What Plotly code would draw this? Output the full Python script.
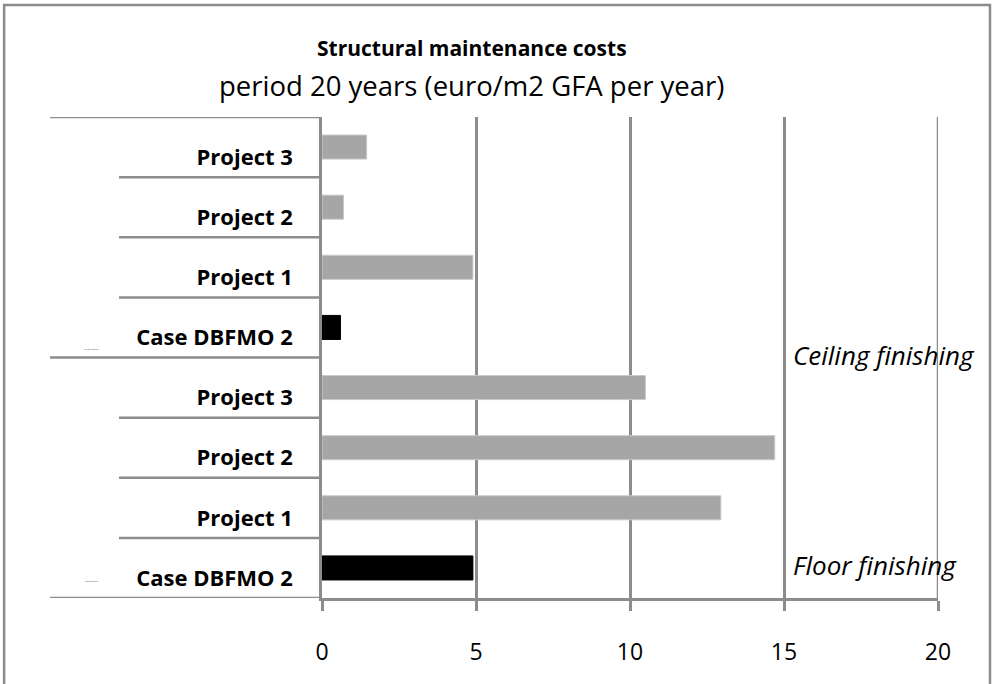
import plotly.graph_objects as go

# ---- data (bottom to top) ----
groups = ["Floor finishing"] * 4 + ["Ceiling finishing"] * 4
labels = ["Case DBFMO 2", "Project 1", "Project 2", "Project 3",
          "Case DBFMO 2", "Project 1", "Project 2", "Project 3"]
values = [4.9, 12.95, 14.7, 10.5, 0.6, 4.9, 0.7, 1.45]
x_ticks = [0, 5, 10, 15, 20]

title_text = "Structural maintenance costs"
subtitle_text = "period 20 years (euro/m2 GFA per year)"

GRID = "#8c8c8c"
FONT = "Open Sans"

positions = list(range(len(labels)))
colors = ["#000000" if lab.startswith("Case") else "#a6a6a6" for lab in labels]
edge = ["#000000" if lab.startswith("Case") else "#c9c9c9" for lab in labels]

fig = go.Figure()
fig.add_trace(go.Bar(
    x=values, y=positions, orientation="h", width=0.4,
    marker=dict(color=colors, line=dict(color=edge, width=1)),
    hoverinfo="x",
))

# separators between categories (Excel style multi-level axis)
shapes = []
n = len(labels)
for k in range(n + 1):
    yb = k - 0.5
    outer = (k == 0 or k == n or groups[k - 1] != groups[k])
    x0 = -0.4416 if outer else -0.3295
    shapes.append(dict(type="line", xref="paper", yref="y", x0=x0, x1=0,
                       y0=yb, y1=yb, line=dict(color=GRID, width=2.5)))
# last gridline at the right edge of the value axis
shapes.append(dict(type="line", xref="x", yref="paper", x0=x_ticks[-1], x1=x_ticks[-1],
                   y0=0, y1=1, line=dict(color=GRID, width=2.5)))
# chart frame
shapes.append(dict(type="rect", xref="paper", yref="paper",
                   x0=-0.516, x1=1.0844, y0=-0.19, y1=1.2328,
                   line=dict(color=GRID, width=2.5), fillcolor="rgba(0,0,0,0)",
                   layer="below"))

annotations = [
    dict(text="<b>" + title_text + "</b>", xref="paper", yref="paper",
         x=0.2435, y=1.1435, showarrow=False, xanchor="center", yanchor="middle",
         font=dict(family=FONT, size=21, color="#000")),
    dict(text=subtitle_text, xref="paper", yref="paper",
         x=0.2435, y=1.0665, showarrow=False, xanchor="center", yanchor="middle",
         font=dict(family=FONT, size=27.5, color="#000")),
]
# group labels: italic on the right, tiny on the left
group_names = []
for g in groups:
    if g not in group_names:
        group_names.append(g)
right_y = {"Floor finishing": 0.0686, "Ceiling finishing": 0.505}
left_y = {"Floor finishing": 0.0353, "Ceiling finishing": 0.5156}
for g in group_names:
    annotations.append(dict(text="<i>" + g + "</i>", xref="paper", yref="paper",
                            x=0.7615, y=right_y[g], xanchor="left", yanchor="middle",
                            showarrow=False,
                            font=dict(family=FONT, size=26, color="#000")))
    annotations.append(dict(text=g, xref="paper", yref="paper",
                            x=-0.374, y=left_y[g], xanchor="center", yanchor="middle",
                            showarrow=False,
                            font=dict(family=FONT, size=2, color="#444")))

fig.update_layout(
    width=997, height=684,
    margin=dict(l=322, r=59, t=117, b=86),
    paper_bgcolor="white", plot_bgcolor="white",
    showlegend=False, bargap=0.6,
    shapes=shapes, annotations=annotations,
    font=dict(family=FONT, color="#000"),
)
fig.update_xaxes(
    range=[0, 20], tickvals=x_ticks, showgrid=True, gridcolor=GRID, gridwidth=2.5,
    zeroline=False, showline=True, linecolor=GRID, linewidth=2.5,
    ticks="outside", ticklen=10, tickwidth=2.5, tickcolor=GRID,
    ticklabelstandoff=22, tickfont=dict(family=FONT, size=23, color="#000"),
)
fig.update_yaxes(
    range=[-0.5, n - 0.5], tickvals=positions, ticktext=["<b>" + l + "</b>" for l in labels],
    showgrid=False, zeroline=False, showline=True, linecolor=GRID, linewidth=2.5,
    ticks="", ticklabelstandoff=22, ticklabelshift=10,
    tickfont=dict(family=FONT, size=22, color="#000"),
)

fig.write_html("out.html", config={"displayModeBar": False},
               post_script="document.body.style.margin='0';")
